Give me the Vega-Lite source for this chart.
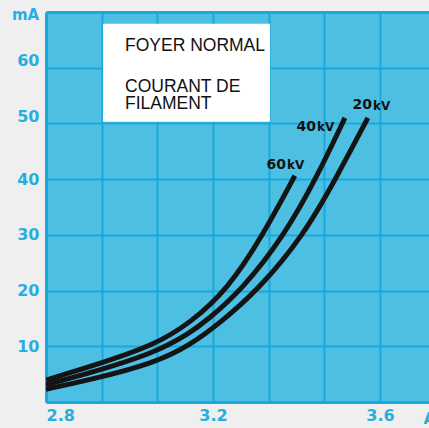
{
  "$schema": "https://vega.github.io/schema/vega-lite/v6.json",
  "width": 383,
  "height": 390,
  "autosize": {"type": "none"},
  "padding": {"left": 46, "top": 12, "right": 0, "bottom": 26},
  "background": "#efefef",
  "config": {
    "view": {"stroke": null, "fill": "#4cbfe2"}
  },
  "datasets": {
    "curves": [
      {"kv": "60kV", "a": 2.8, "ma": 3.95},
      {"kv": "60kV", "a": 2.905, "ma": 6.3},
      {"kv": "60kV", "a": 3.061, "ma": 10.2},
      {"kv": "60kV", "a": 3.145, "ma": 14.2},
      {"kv": "60kV", "a": 3.234, "ma": 20.1},
      {"kv": "60kV", "a": 3.32, "ma": 30.0},
      {"kv": "60kV", "a": 3.396, "ma": 40.6},
      {"kv": "40kV", "a": 2.8, "ma": 3.1},
      {"kv": "40kV", "a": 2.905, "ma": 5.2},
      {"kv": "40kV", "a": 3.061, "ma": 8.8},
      {"kv": "40kV", "a": 3.145, "ma": 12.4},
      {"kv": "40kV", "a": 3.186, "ma": 14.7},
      {"kv": "40kV", "a": 3.269, "ma": 20.1},
      {"kv": "40kV", "a": 3.372, "ma": 30.0},
      {"kv": "40kV", "a": 3.449, "ma": 40.4},
      {"kv": "40kV", "a": 3.516, "ma": 51.0},
      {"kv": "20kV", "a": 2.8, "ma": 2.3},
      {"kv": "20kV", "a": 2.905, "ma": 3.95},
      {"kv": "20kV", "a": 3.061, "ma": 7.0},
      {"kv": "20kV", "a": 3.145, "ma": 10.2},
      {"kv": "20kV", "a": 3.217, "ma": 14.2},
      {"kv": "20kV", "a": 3.308, "ma": 20.1},
      {"kv": "20kV", "a": 3.418, "ma": 30.0},
      {"kv": "20kV", "a": 3.495, "ma": 40.2},
      {"kv": "20kV", "a": 3.571, "ma": 51.0}
    ],
    "box": [
      {"a": 2.9365, "a_end": 3.3365, "ma": 50.3, "ma_end": 67.9}
    ],
    "notes": [
      {"text": "FOYER NORMAL", "a": 2.9892, "ma": 63.9},
      {"text": "COURANT DE", "a": 2.9892, "ma": 56.54},
      {"text": "FILAMENT", "a": 2.9892, "ma": 53.4}
    ],
    "tags": [
      {"num": "60", "unit": "kV", "a": 3.3749, "ma": 42.54},
      {"num": "40", "unit": "kV", "a": 3.4467, "ma": 49.36},
      {"num": "20", "unit": "kV", "a": 3.5808, "ma": 53.3}
    ]
  },
  "encoding": {
    "x": {
      "field": "a", "type": "quantitative",
      "scale": {"domain": [2.8, 3.7174], "nice": false, "zero": false},
      "axis": {
        "values": [2.8, 2.93333, 3.06667, 3.2, 3.33333, 3.46667, 3.6],
        "labelExpr": "(abs(datum.value-2.8)<0.01 || abs(datum.value-3.2)<0.01 || abs(datum.value-3.6)<0.01) ? format(datum.value, '.1f') : ''",
        "grid": true,
        "gridColor": "#19a9dc",
        "gridOpacity": 1,
        "gridWidth": {"condition": {"test": "datum.value < 2.81", "value": 3}, "value": 2},
        "domain": false,
        "ticks": false,
        "labelPadding": 5,
        "labelFlush": true,
        "labelOverlap": false,
        "labelBound": false,
        "labelFont": "DejaVu Sans",
        "labelFontSize": 16,
        "labelFontWeight": "bold",
        "labelColor": "#27aee0",
        "title": "A",
        "titleX": 377,
        "titleY": 21,
        "titleAlign": "left",
        "titleBaseline": "alphabetic",
        "titleFont": "DejaVu Sans",
        "titleFontSize": 16,
        "titleFontWeight": "bold",
        "titleColor": "#27aee0"
      }
    },
    "y": {
      "field": "ma", "type": "quantitative",
      "scale": {"domain": [0, 70], "nice": false},
      "axis": {
        "values": [0, 10, 20, 30, 40, 50, 60, 70],
        "labelExpr": "(datum.value >= 10 && datum.value <= 60) ? datum.label : ''",
        "grid": true,
        "gridColor": "#19a9dc",
        "gridOpacity": 1,
        "gridWidth": {"condition": {"test": "datum.value == 0 || datum.value == 70", "value": 3}, "value": 2},
        "domain": false,
        "ticks": false,
        "labelPadding": 7,
        "labelOffset": {"condition": {"test": "datum.value >= 50", "value": -7}, "value": 0},
        "labelOverlap": false,
        "labelBound": false,
        "labelFont": "DejaVu Sans",
        "labelFontSize": 16,
        "labelFontWeight": "bold",
        "labelColor": "#27aee0",
        "title": "mA",
        "titleAngle": 0,
        "titleX": -21,
        "titleY": 7,
        "titleAlign": "center",
        "titleBaseline": "alphabetic",
        "titleFont": "DejaVu Sans",
        "titleFontSize": 15,
        "titleFontWeight": "bold",
        "titleColor": "#27aee0"
      }
    }
  },
  "layer": [
    {
      "data": {"name": "box"},
      "mark": {"type": "rect", "color": "#ffffff", "opacity": 1},
      "encoding": {
        "x2": {"field": "a_end"},
        "y2": {"field": "ma_end"}
      }
    },
    {
      "data": {"name": "curves"},
      "mark": {"type": "line", "interpolate": "basis", "strokeWidth": 5, "color": "#141414", "strokeCap": "butt", "clip": true},
      "encoding": {
        "detail": {"field": "kv"}
      }
    },
    {
      "data": {"name": "notes"},
      "mark": {"type": "text", "align": "left", "baseline": "middle", "font": "Liberation Sans", "fontSize": 17.5, "color": "#111111"},
      "encoding": {
        "text": {"field": "text"}
      }
    },
    {
      "data": {"name": "tags"},
      "mark": {"type": "text", "align": "right", "baseline": "middle", "font": "DejaVu Sans", "fontWeight": "bold", "fontSize": 14, "color": "#111111"},
      "encoding": {
        "text": {"field": "num"}
      }
    },
    {
      "data": {"name": "tags"},
      "mark": {"type": "text", "align": "left", "baseline": "middle", "dx": 1, "dy": 0.5, "font": "DejaVu Sans", "fontWeight": "bold", "fontSize": 12, "color": "#111111"},
      "encoding": {
        "text": {"field": "unit"}
      }
    }
  ]
}
